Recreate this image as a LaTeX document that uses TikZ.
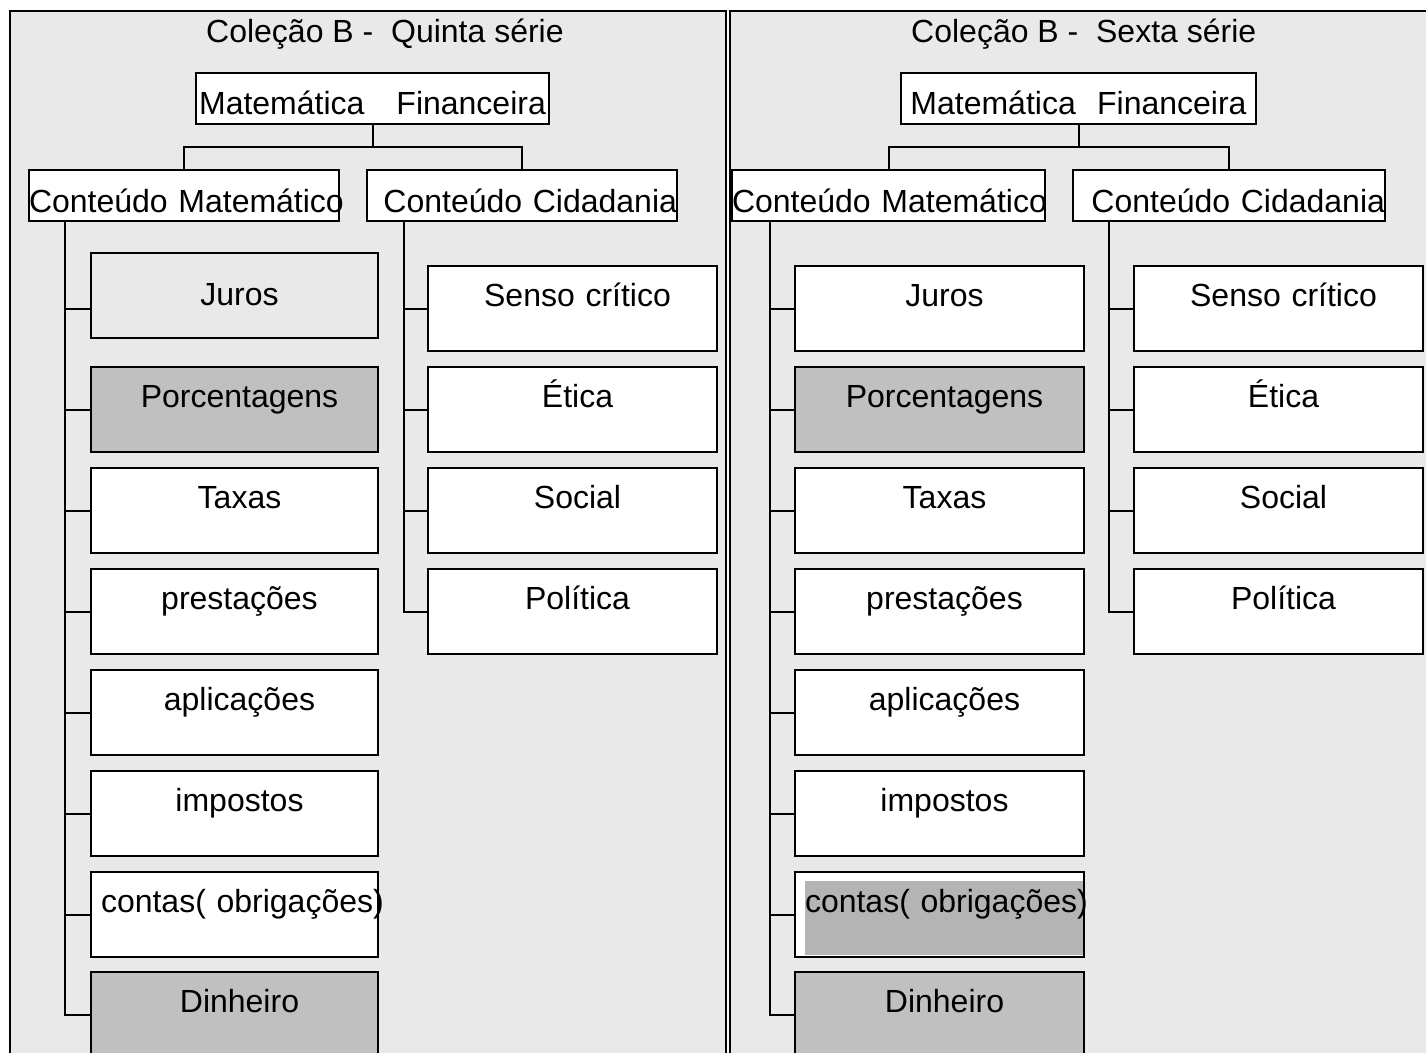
\documentclass[tikz,border=0pt]{standalone}
\usepackage{fontspec}
\setmainfont{Liberation Sans}
\definecolor{panelbg}{RGB}{233,233,233}
\definecolor{boxgray}{RGB}{192,192,192}
\definecolor{boxgraydk}{RGB}{180,180,180}
\tikzset{
  ln/.style={line width=2pt, black},
  box/.style={draw, line width=2pt, fill=white, inner sep=0pt, anchor=north west,
    font=\fontsize{32}{38}\selectfont},
  topbox/.style={box, align=center, text height=41pt, text depth=10pt},
  subbox/.style={box, text height=42pt, text depth=9pt},
  leaf/.style={box, align=center, text width=#1, text height=40pt, text depth=45pt,
    execute at begin node={\hspace*{10pt}}},
  leaf/.default=287pt,
  title/.style={anchor=base west, inner sep=0pt, font=\fontsize{32}{38}\selectfont},
}
\begin{document}
\begin{tikzpicture}[x=1pt,y=-1pt]
\useasboundingbox (0,0) rectangle (1426,1052);
\fill[white] (0,0) rectangle (1426,1052);
\clip (0,0) rectangle (1426,1052);
% panels
\fill[panelbg] (9.5,10.5) rectangle (725.5,1060);
\draw[ln] (9.5,1060) |- (725.5,10.5) -- (725.5,1060);
\fill[panelbg] (729.5,10.5) rectangle (1430,1060);
\draw[ln] (729.5,1060) |- (1430,10.5);

% ---------------- left panel ----------------
\node[title] (T1) at (206,42) {Coleção B -\ \ Quinta série};
\node[topbox, text width=353pt] (MF1) at (195,72) {\mbox{Matemática\ \ \ Financeira}};
\node[subbox, text width=310pt, align=center] (CM1) at (28,169) {\mbox{Conteúdo Matemático}};
\node[subbox, text width=310pt, align=right] (CC1) at (366,169) {\mbox{Conteúdo Cidadania}};

\node[leaf, fill=panelbg, text height=52pt, text depth=33pt] (J1) at (90,252) {Juros};
\node[leaf, fill=boxgray] (P1) at (90,366) {Porcentagens};
\node[leaf] (X1) at (90,467) {Taxas};
\node[leaf] (R1) at (90,568) {prestações};
\node[leaf] (A1) at (90,669) {aplicações};
\node[leaf] (I1) at (90,770) {impostos};
\node[leaf] (C1) at (90,871) {\mbox{contas( obrigações)}};
\node[leaf, fill=boxgray] (D1) at (90,971) {Dinheiro};

\node[leaf=289pt] (S1) at (427,265) {Senso crítico};
\node[leaf=289pt] (E1) at (427,366) {Ética};
\node[leaf=289pt] (O1) at (427,467) {Social};
\node[leaf=289pt] (L1) at (427,568) {Política};

\draw[ln] (MF1.south) -- ++(0,22) -| (CM1.north);
\draw[ln] (MF1.south) -- ++(0,22) -| (CC1.north);
\foreach \n in {P1,X1,R1,A1,I1,C1,D1}
  \draw[ln] ([xshift=37pt]CM1.south west) |- (\n.west);
\draw[ln] ([xshift=37pt]CM1.south west) |- ([yshift=-13.5pt]J1.west);
\foreach \n in {S1,E1,O1,L1}
  \draw[ln] ([xshift=38pt]CC1.south west) |- (\n.west);

% ---------------- right panel ----------------
\node[title] (T2) at (911,42) {Coleção B -\ \ Sexta série};
\node[topbox, text width=355pt] (MF2) at (900,72) {\mbox{Matemática\ \ Financeira}};
\node[subbox, text width=313pt, align=center] (CM2) at (731,169) {\mbox{Conteúdo Matemático}};
\node[subbox, text width=312pt, align=right] (CC2) at (1072,169) {\mbox{Conteúdo Cidadania}};

\node[leaf=289pt] (J2) at (794,265) {Juros};
\node[leaf=289pt, fill=boxgray] (P2) at (794,366) {Porcentagens};
\node[leaf=289pt] (X2) at (794,467) {Taxas};
\node[leaf=289pt] (R2) at (794,568) {prestações};
\node[leaf=289pt] (A2) at (794,669) {aplicações};
\node[leaf=289pt] (I2) at (794,770) {impostos};
\node[leaf=289pt, path picture={\fill[boxgraydk]
    ([xshift=10pt,yshift=-9pt]path picture bounding box.north west)
    rectangle ([yshift=2pt]path picture bounding box.south east);}] (C2) at (794,871) {\mbox{contas( obrigações)}};
\node[leaf=289pt, fill=boxgray] (D2) at (794,971) {Dinheiro};

\node[leaf=289pt] (S2) at (1133,265) {Senso crítico};
\node[leaf=289pt] (E2) at (1133,366) {Ética};
\node[leaf=289pt] (O2) at (1133,467) {Social};
\node[leaf=289pt] (L2) at (1133,568) {Política};

\draw[ln] (MF2.south) -- ++(0,22) -| (CM2.north);
\draw[ln] (MF2.south) -- ++(0,22) -| (CC2.north);
\foreach \n in {J2,P2,X2,R2,A2,I2,C2,D2}
  \draw[ln] ([xshift=39pt]CM2.south west) |- (\n.west);
\foreach \n in {S2,E2,O2,L2}
  \draw[ln] ([xshift=37pt]CC2.south west) |- (\n.west);
\end{tikzpicture}
\end{document}
